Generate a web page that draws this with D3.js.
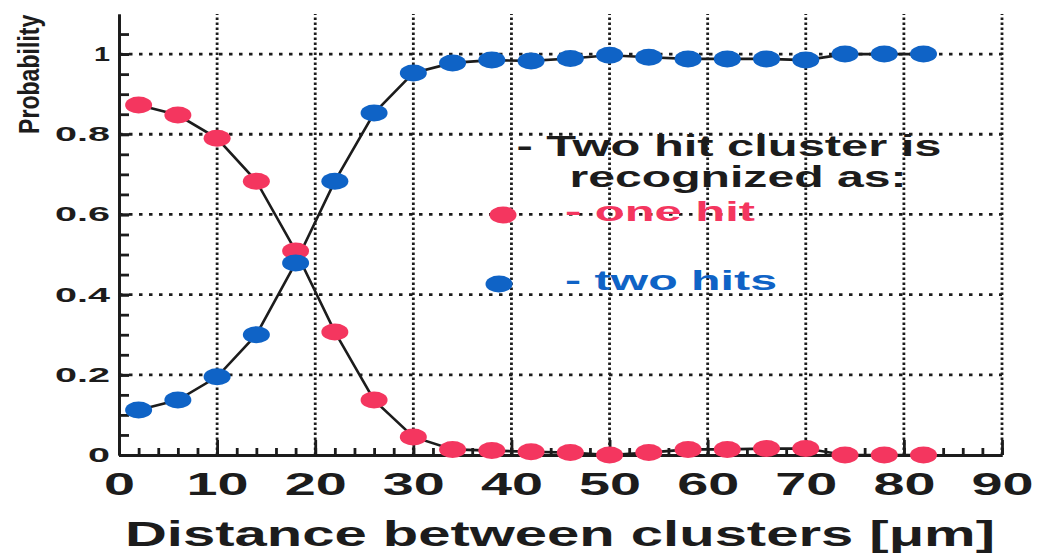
<!DOCTYPE html>
<html>
<head>
<meta charset="utf-8">
<script src="https://cdn.jsdelivr.net/npm/d3@7"></script>
<style>
  body { margin: 0; background: #fff; }
  svg { display: block; font-family: "Liberation Sans", Arial, sans-serif; font-weight: bold; }
</style>
</head>
<body>
<script>
// distance between clusters (um)
var distance = [2, 6, 10, 14, 18, 22, 26, 30, 34, 38, 42, 46, 50, 54, 58, 62, 66, 70, 74, 78, 82];
// probability recognized as one hit
var oneHit = [0.873, 0.848, 0.79, 0.683, 0.509, 0.307, 0.137, 0.045, 0.014, 0.011, 0.008, 0.006, 0.0,
              0.006, 0.014, 0.014, 0.016, 0.016, 0.0, 0.0, 0.0];
// probability recognized as two hits
var twoHits = [0.112, 0.137, 0.195, 0.30, 0.479, 0.683, 0.853, 0.953, 0.978, 0.985, 0.983, 0.989, 0.997,
               0.992, 0.988, 0.988, 0.988, 0.985, 1.0, 1.0, 1.0];
var xTicks = [0, 10, 20, 30, 40, 50, 60, 70, 80, 90];
var yTicks = [0, 0.2, 0.4, 0.6, 0.8, 1];
var yTickLabels = ["0", "0.2", "0.4", "0.6", "0.8", "1"];

var W = 1042, H = 553;
var red = "#f4365f", blue = "#0f63c6", ink = "#1c1c1c";

var svg = d3.select("body").append("svg")
  .attr("width", W)
  .attr("height", H);

var x = d3.scaleLinear().domain([0, 90]).range([119, 1002]);
var y = d3.scaleLinear().domain([0, 1.1]).range([455, 14]);

// grid
svg.append("g").selectAll("line")
  .data(xTicks.slice(1))
  .enter().append("line")
  .attr("x1", d => x(d)).attr("x2", d => x(d))
  .attr("y1", y(0)).attr("y2", y(1.1))
  .attr("stroke", ink).attr("stroke-width", 2.8)
  .attr("stroke-dasharray", "2.6,2.4");

svg.append("g").selectAll("line")
  .data(yTicks.slice(1))
  .enter().append("line")
  .attr("x1", x(0)).attr("x2", x(90))
  .attr("y1", d => y(d)).attr("y2", d => y(d))
  .attr("stroke", ink).attr("stroke-width", 2.8)
  .attr("stroke-dasharray", "3.5,6.5");

// x axis: minor ticks every 2, major every 10
var xMinor = d3.axisBottom(x).tickValues(d3.range(0, 91, 2)).tickSize(-7).tickSizeOuter(0).tickFormat("");
var xMajor = d3.axisBottom(x).tickValues(xTicks).tickSize(-15).tickSizeOuter(0).tickPadding(17);

svg.append("g").attr("transform", "translate(0," + y(0) + ")").call(xMinor);
var gx = svg.append("g").attr("transform", "translate(0," + y(0) + ")").call(xMajor);
gx.selectAll("text")
  .attr("font-size", 32)
  .attr("font-family", "Liberation Sans, Arial, sans-serif")
  .attr("font-weight", "bold")
  .attr("fill", ink)
  .attr("textLength", d => String(d).length * 31)
  .attr("lengthAdjust", "spacingAndGlyphs");

// y axis: minor ticks every 0.05
var yMinor = d3.axisLeft(y).tickValues(d3.range(0, 1.06, 0.05)).tickSize(-10).tickSizeOuter(0).tickFormat("");
var yMajor = d3.axisLeft(y).tickValues(yTicks).tickSize(-10).tickSizeOuter(0).tickPadding(9)
  .tickFormat((d, i) => yTickLabels[i]);

svg.append("g").attr("transform", "translate(" + x(0) + ",0)").call(yMinor);
var gy = svg.append("g").attr("transform", "translate(" + x(0) + ",0)").call(yMajor);
gy.selectAll("text")
  .attr("font-size", 20)
  .attr("font-family", "Liberation Sans, Arial, sans-serif")
  .attr("font-weight", "bold")
  .attr("fill", ink)
  .attr("textLength", (d, i) => yTickLabels[i] === "1" ? 16 : yTickLabels[i].length === 1 ? 22 : 55)
  .attr("lengthAdjust", "spacingAndGlyphs");

svg.selectAll(".domain, .tick line")
  .attr("stroke", ink)
  .attr("stroke-width", 2.8);

// curves
var line = d3.line()
  .x((d, i) => x(distance[i]))
  .y(d => y(d));

svg.append("path").datum(twoHits)
  .attr("d", line).attr("fill", "none")
  .attr("stroke", ink).attr("stroke-width", 2.6);
svg.append("path").datum(oneHit)
  .attr("d", line).attr("fill", "none")
  .attr("stroke", ink).attr("stroke-width", 2.6);

svg.append("g").selectAll("ellipse")
  .data(oneHit)
  .enter().append("ellipse")
  .attr("cx", (d, i) => x(distance[i]))
  .attr("cy", d => y(d))
  .attr("rx", 13.5).attr("ry", 8.5)
  .attr("fill", red);

svg.append("g").selectAll("ellipse")
  .data(twoHits)
  .enter().append("ellipse")
  .attr("cx", (d, i) => x(distance[i]))
  .attr("cy", d => y(d))
  .attr("rx", 13.5).attr("ry", 8.5)
  .attr("fill", blue);

// legend
var leg = svg.append("g");
leg.append("text").attr("x", 729).attr("y", 156)
  .attr("text-anchor", "middle").attr("font-size", 30).attr("fill", ink)
  .attr("textLength", 425).attr("lengthAdjust", "spacingAndGlyphs")
  .text("- Two hit cluster is");
leg.append("text").attr("x", 738).attr("y", 187)
  .attr("text-anchor", "middle").attr("font-size", 29).attr("fill", ink)
  .attr("textLength", 337).attr("lengthAdjust", "spacingAndGlyphs")
  .text("recognized as:");

leg.append("ellipse").attr("cx", 503).attr("cy", 215).attr("rx", 13.5).attr("ry", 8.5).attr("fill", red);
leg.append("text").attr("x", 565).attr("y", 221)
  .attr("font-size", 27).attr("fill", red)
  .attr("textLength", 190).attr("lengthAdjust", "spacingAndGlyphs")
  .text("- one hit");

leg.append("ellipse").attr("cx", 499).attr("cy", 284).attr("rx", 13.5).attr("ry", 8.5).attr("fill", blue);
leg.append("text").attr("x", 565).attr("y", 290)
  .attr("font-size", 27).attr("fill", blue)
  .attr("textLength", 212).attr("lengthAdjust", "spacingAndGlyphs")
  .text("- two hits");

// axis titles
svg.append("text").attr("x", 125).attr("y", 546)
  .attr("font-size", 35).attr("fill", ink)
  .attr("textLength", 870).attr("lengthAdjust", "spacingAndGlyphs")
  .text("Distance between clusters [\u03bcm]");

// condensed look: squeeze along the text direction
svg.append("text")
  .attr("transform", "translate(39,134) rotate(-90) scale(0.77,1)")
  .attr("font-size", 30).attr("fill", ink)
  .text("Probability");
</script>
</body>
</html>
